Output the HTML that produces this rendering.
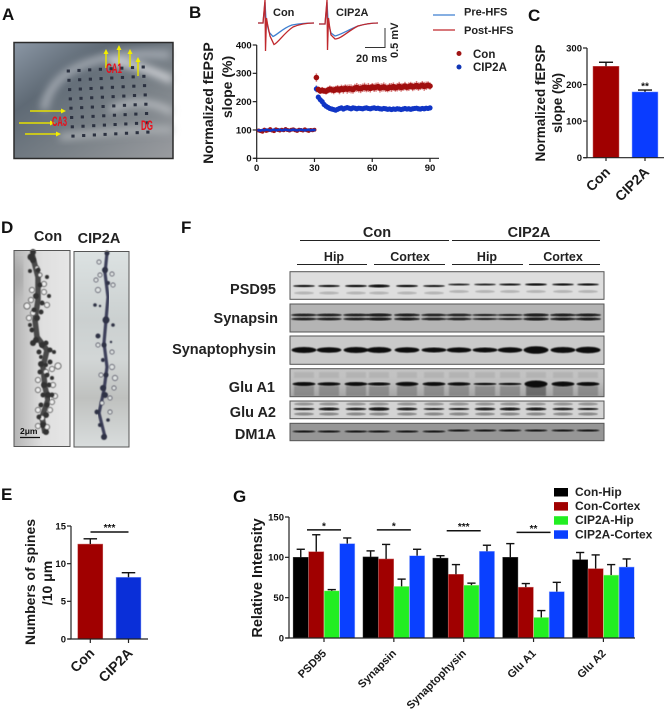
<!DOCTYPE html>
<html lang="en">
<head>
<meta charset="utf-8">
<title>CIP2A figure</title>
<style>
html,body{margin:0;padding:0;background:#fff;}
svg{display:block;font-family:"Liberation Sans",sans-serif;filter:blur(0.35px);}
.pl{font-size:17px;font-weight:700;fill:#111;}
.tk{font-size:9.5px;font-weight:700;fill:#111;}
.ttl{font-size:14px;font-weight:700;fill:#1a1a1a;text-anchor:middle;}
.cal{font-size:11px;font-weight:700;fill:#222;}
.blot{font-size:14.5px;font-weight:700;fill:#222;text-anchor:end;}
.hd{font-size:14.5px;font-weight:700;fill:#222;text-anchor:middle;}
.sub{font-size:12.5px;font-weight:700;fill:#222;text-anchor:middle;}
.leg{font-size:12px;font-weight:700;fill:#222;}
</style>
</head>
<body>
<svg id="fig" xmlns="http://www.w3.org/2000/svg" width="670" height="714" viewBox="0 0 670 714">
<defs>
<filter id="b05"><feGaussianBlur stdDeviation="0.5"/></filter>
<filter id="b1"><feGaussianBlur stdDeviation="0.9"/></filter>
<filter id="b4"><feGaussianBlur stdDeviation="4"/></filter>
<filter id="b8"><feGaussianBlur stdDeviation="7"/></filter>
<linearGradient id="aBg" x1="0" y1="0" x2="1" y2="1">
<stop offset="0" stop-color="#8b97a5"/><stop offset="0.3" stop-color="#5f6a75"/><stop offset="0.65" stop-color="#7c8389"/><stop offset="1" stop-color="#9a9ca0"/>
</linearGradient>
<linearGradient id="dBg1" x1="0" y1="0" x2="1" y2="0">
<stop offset="0" stop-color="#b4b4b4"/><stop offset="0.5" stop-color="#dfdfdf"/><stop offset="1" stop-color="#e6e6e6"/>
</linearGradient>
<linearGradient id="dBg2" x1="0" y1="0" x2="0" y2="1">
<stop offset="0" stop-color="#dce2e2"/><stop offset="0.35" stop-color="#cbd0d0"/><stop offset="0.55" stop-color="#d2d6d6"/><stop offset="0.75" stop-color="#bfc1bf"/><stop offset="1" stop-color="#d9dddd"/>
</linearGradient>
<linearGradient id="gA1" x1="0" y1="0" x2="0" y2="1">
<stop offset="0" stop-color="#c4c4c4"/><stop offset="0.45" stop-color="#c0c0c0"/><stop offset="1" stop-color="#a4a4a4"/>
</linearGradient>
</defs>

<text class="pl" x="2" y="20">A</text>
<text class="pl" x="189" y="18">B</text>
<text class="pl" x="528" y="21">C</text>
<text class="pl" x="1" y="233">D</text>
<text class="pl" x="181" y="233">F</text>
<text class="pl" x="1" y="500">E</text>
<text class="pl" x="233" y="502">G</text>

<g id="panelA">
<rect x="14" y="42.500" width="159" height="116" fill="url(#aBg)"/>
<g filter="url(#b4)" fill="none" stroke="#b7bcc2">
<path d="M44 110 C50 70 95 50 170 55" stroke-width="8" stroke="#a2a8b0"/>
<path d="M110 62 C130 62 150 70 172 80" stroke-width="7" stroke="#d4d6da"/>
<path d="M110 110 C130 100 150 100 172 112" stroke-width="5" stroke="#c5c8cc"/>
<path d="M60 137 C90 135 130 128 172 130" stroke-width="6" stroke="#aeb2b6"/>
</g>
<rect x="14" y="42.500" width="159" height="116" fill="none" stroke="#2b2b2b" stroke-width="1.500"/>
<g id="aDots"></g>
<g stroke="#e6e000" stroke-width="1.500" fill="#f2ee00">
<line x1="106" y1="68" x2="106" y2="52"/><path d="M103.500 54 L106 49 L108.500 54Z" stroke="none"/>
<line x1="119" y1="65" x2="119" y2="48"/><path d="M116.500 50 L119 45 L121.500 50Z" stroke="none"/>
<line x1="130" y1="67" x2="130" y2="52"/><path d="M127.500 54 L130 49 L132.500 54Z" stroke="none"/>
<line x1="138" y1="76" x2="138" y2="60"/><path d="M135.500 62 L138 57 L140.500 62Z" stroke="none"/>
<line x1="30" y1="111" x2="62" y2="111"/><path d="M61 108.500 L66 111 L61 113.500Z" stroke="none"/>
<line x1="19" y1="123" x2="51" y2="123"/><path d="M50 120.500 L55 123 L50 125.500Z" stroke="none"/>
<line x1="25" y1="134" x2="57" y2="134"/><path d="M56 131.500 L61 134 L56 136.500Z" stroke="none"/>
</g>
<text x="106" y="73" font-size="14" font-weight="700" fill="#e8101c" textLength="16" lengthAdjust="spacingAndGlyphs">CA1</text>
<text x="52" y="126" font-size="14" font-weight="700" fill="#e8101c" textLength="15" lengthAdjust="spacingAndGlyphs">CA3</text>
<text x="141" y="130" font-size="14" font-weight="700" fill="#e8101c" textLength="12" lengthAdjust="spacingAndGlyphs">DG</text>
</g>

<g id="panelB">
<g id="bTraces" fill="none" stroke-width="1.300">
<path d="M258 23 L263 23 L265 2 L266 20 L267 24 L269 32 L273 36.500 C277 35 283 28 292 25 C300 23.500 308 23 314 23" stroke="#3f7fd0"/>
<path d="M258 23 L263 23 L265 0 L265.500 51 L266.500 18 L267.500 24 L270 36 L274 44.500 C278 43 284 33 293 27 C300 24 308 23 314 23" stroke="#c0282c"/>
<path d="M319 24 L325 24 L327 2 L328 20 L329 26 L331 33 L335 36 C340 35 348 30 358 26 C365 24 372 23 378 23" stroke="#3f7fd0"/>
<path d="M319 24 L325 24 L327 0 L327.500 50 L328.500 18 L329.500 26 L331 35 L335 39 C341 39 348 31 358 26 C365 24 372 23 378 23" stroke="#c0282c"/>
</g>
<text class="cal" x="273" y="16" font-size="11.500">Con</text>
<text class="cal" x="336" y="16">CIP2A</text>
<path d="M385 28 V47.500 H365" fill="none" stroke="#333" stroke-width="1"/>
<text class="cal" x="356" y="62">20 ms</text>
<text class="cal" transform="translate(398,58) rotate(-90)" x="0" y="0">0.5 mV</text>
<line x1="433" x2="455" y1="15" y2="15" stroke="#3f7fd0" stroke-width="1.300"/>
<text class="cal" x="464" y="15.500">Pre-HFS</text>
<line x1="433" x2="455" y1="30" y2="30" stroke="#c0282c" stroke-width="1.300"/>
<text class="cal" x="464" y="34">Post-HFS</text>
<circle cx="459" cy="53.500" r="2.500" fill="#a01515"/>
<text x="473" y="58" font-size="11.500" font-weight="700" fill="#222">Con</text>
<circle cx="459" cy="67" r="2.500" fill="#1035b5"/>
<text x="473" y="71" font-size="11.500" font-weight="700" fill="#222">CIP2A</text>
<text class="ttl" transform="translate(213,103) rotate(-90)">Normalized fEPSP</text>
<text class="ttl" transform="translate(232,87) rotate(-90)">slope (%)</text>
<g id="bChart"></g>
</g>

<g id="panelC">
<text class="ttl" transform="translate(545,103) rotate(-90)" style="font-size:13.500px">Normalized fEPSP</text>
<text class="ttl" transform="translate(562,103) rotate(-90)" style="font-size:13.500px">slope (%)</text>
<g id="cChart"></g>
</g>

<g id="panelD">
<text class="hd" x="48" y="241">Con</text>
<text class="hd" x="99" y="243">CIP2A</text>
<rect x="14" y="250.500" width="56" height="196" fill="url(#dBg1)"/>
<rect x="74" y="251.500" width="55" height="195.500" fill="url(#dBg2)"/>
<path d="M15 260 C28 270 22 285 15 300 Z" fill="#8f8f8f" filter="url(#b8)"/>
<path d="M32 254 L38 277 L38 300 L35 320 L37 337 L47 350 L43 367 L45 387 L48 400 L42 417 L45 433" fill="none" stroke="#4a4a4a" stroke-width="5.500" stroke-linejoin="round" filter="url(#b05)"/>
<path d="M107 253 L105 273 L108 297 L106 320 L104 343 L107 367 L104 390 L99 413 L105 437" fill="none" stroke="#3d415a" stroke-width="3.200" stroke-linejoin="round" filter="url(#b05)"/>
<g id="spines" filter="url(#b05)"></g>
<rect x="14" y="250.500" width="56" height="196" fill="none" stroke="#555" stroke-width="1"/>
<rect x="74" y="251.500" width="55" height="195.500" fill="none" stroke="#555" stroke-width="1"/>
<text x="20" y="434" font-size="8.500" font-weight="700" fill="#111">2μm</text>
<line x1="20" x2="40" y1="437.500" y2="437.500" stroke="#111" stroke-width="1.300"/>
</g>

<g id="panelF">
<text class="hd" x="377" y="237">Con</text>
<text class="hd" x="529" y="237">CIP2A</text>
<line x1="300" x2="449" y1="240.500" y2="240.500" stroke="#222"/>
<line x1="452" x2="600" y1="240.500" y2="240.500" stroke="#222"/>
<text class="sub" x="334" y="261">Hip</text>
<text class="sub" x="410" y="261">Cortex</text>
<text class="sub" x="487" y="261">Hip</text>
<text class="sub" x="563" y="261">Cortex</text>
<line x1="297" x2="367" y1="264.500" y2="264.500" stroke="#222"/>
<line x1="374" x2="445" y1="264.500" y2="264.500" stroke="#222"/>
<line x1="452" x2="523" y1="264.500" y2="264.500" stroke="#222"/>
<line x1="529" x2="600" y1="264.500" y2="264.500" stroke="#222"/>
<text class="blot" x="276" y="294">PSD95</text>
<text class="blot" x="278" y="323">Synapsin</text>
<text class="blot" x="276" y="354">Synaptophysin</text>
<text class="blot" x="275" y="392">Glu A1</text>
<text class="blot" x="276" y="417">Glu A2</text>
<text class="blot" x="276" y="439">DM1A</text>
<g id="blots"></g>
</g>

<g id="panelE">
<text class="ttl" transform="translate(35,582) rotate(-90)">Numbers of spines</text>
<text class="ttl" transform="translate(52,583) rotate(-90)">/10 μm</text>
<g id="eChart"></g>
</g>

<g id="panelG">
<text class="ttl" transform="translate(262,578) rotate(-90)" style="font-size:14.500px">Relative Intensity</text>
<g id="gChart"></g>
<g id="gLegend"></g>
</g>
</svg>

<script>
// ---- Panel B data ----
const bXTicks = [0, 30, 60, 90];
const bYTicks = [0, 100, 200, 300, 400];
const bBaseTime = [1,2,3,4,5,6,7,8,9,10,11,12,13,14,15,16,17,18,19,20,21,22,23,24,25,26,27,28,29,30];
const bConBase = [98,96,94,101,97,99,103,98,96,102,100,98,101,99,103,100,98,101,102,99,97,101,100,98,102,99,97,100,99,101];
const bCipBase = [99,98,100,99,101,100,98,100,101,99,100,101,99,100,101,100,99,100,101,100,99,100,101,100,99,100,101,99,100,100];
const bConBaseErr = [6,6,7,7,6,5,6,6,5,6,5,6,5,6,7,5,6,5,6,5,6,5,6,5,6,6,5,6,5,6];
const bCipBaseErr = [2,2,2,2,2,2,2,2,2,2,2,2,2,2,2,2,2,2,2,2,2,2,2,2,2,2,2,2,2,2];
const bPostTime = [31,32,33,34,35,36,37,38,39,40,41,42,43,44,45,46,47,48,49,50,51,52,53,54,55,56,57,58,59,60,61,62,63,64,65,66,67,68,69,70,71,72,73,74,75,76,77,78,79,80,81,82,83,84,85,86,87,88,89,90];
const bConPost = [285,243,238,240,238,237,241,244,242,240,243,245,241,246,243,247,244,246,245,243,248,250,247,246,249,251,248,250,247,252,249,251,253,248,250,252,249,247,251,250,253,249,251,254,250,252,255,251,253,256,252,254,257,253,255,258,254,256,258,255];
const bConPostErr = [15,10,11,12,11,12,12,13,13,14,13,14,15,14,15,14,16,15,16,15,15,16,15,16,15,16,15,16,15,14,15,16,15,16,15,16,15,14,15,16,15,14,15,16,15,14,15,14,15,14,15,14,16,15,14,15,16,15,14,13];
const bCipPost = [245,216,207,200,190,184,180,176,174,172,170,173,176,178,174,177,179,177,175,178,177,175,177,176,175,177,178,176,175,177,178,176,177,175,174,176,175,173,174,172,174,173,175,174,172,174,176,174,175,173,175,176,177,175,174,176,175,177,176,178];
const bCipPostErr = [12,9,8,8,7,7,6,6,6,6,6,7,7,7,8,6,6,6,6,6,5,6,5,6,6,5,6,6,5,6,5,6,5,6,5,6,6,5,6,5,6,5,6,5,6,5,6,5,6,5,5,6,5,5,6,5,5,5,5,4];
// ---- Panel C data ----
const cCategories = ['Con', 'CIP2A'];
const cValues = [250, 180];
const cErrors = [11, 5];
const cYTicks = [0, 100, 200, 300];
// ---- Panel E data ----
const eCategories = ['Con', 'CIP2A'];
const eValues = [12.6, 8.2];
const eErrors = [0.7, 0.6];
const eYTicks = [0, 5, 10, 15];
// ---- Panel G data ----
const gCategories = ['PSD95', 'Synapsin', 'Synaptophysin', 'Glu A1', 'Glu A2'];
const gSeriesNames = ['Con-Hip', 'Con-Cortex', 'CIP2A-Hip', 'CIP2A-Cortex'];
const gConHip = [100, 100.5, 99, 100, 97];
const gConCortex = [107, 98, 79, 63, 86];
const gCipHip = [58.5, 64, 65.5, 25.5, 78];
const gCipCortex = [117, 102, 107.5, 57.5, 88];
const gConHipErr = [10, 7.5, 3, 17, 9];
const gConCortexErr = [21, 18, 12, 4.5, 17];
const gCipHipErr = [1.5, 9, 2.5, 8.5, 13];
const gCipCortexErr = [7, 8, 7.5, 11.5, 10];
const gYTicks = [0, 50, 100, 150];
const gSigLabels = ['*', '*', '***', '**', ''];
const gSigLevels = [134, 134, 133, 131, 0];
// ---- Blot band data (relative band thickness per lane) ----
const blotPsd = [2.2,2.2,2.4,3,2.4,2,1.8,1.8,2,2.4,2.2,2.2];
const blotSynapsin = [2.8,2.8,2.8,3.2,3,2.6,2.6,2.2,2.2,3.2,3,3];
const blotPhysin = [6,5.5,6,6,5.5,5,5.2,5,5.4,7.5,6,6.5];
const blotA1 = [4,3.4,4,3.2,4.2,4,3.4,2.4,2.4,7,5,4];
const blotA2 = [2.4,3,2.6,3.4,2.8,2,2.2,2.8,3,3,2.6,2.2];
const blotDm = [2,2,2,2,2,2,2,2,2,2,2,2];
const blotLanes = [304,329,356,379,407,434,459,485,510,536,563,588];

const NS = 'http://www.w3.org/2000/svg';
function mk(parent, tag, attrs, text) {
  const el = document.createElementNS(NS, tag);
  for (const k in attrs) el.setAttribute(k, attrs[k]);
  if (text !== undefined) el.textContent = text;
  parent.appendChild(el);
  return el;
}
function $(id) { return document.getElementById(id); }

// Axes helpers
function drawYAxis(root, x, scale, ticks, x2, base) {
  const ax = mk(root, 'line', {x1: x, x2: x, y1: scale(ticks[ticks.length - 1]), y2: base, stroke: '#222', 'stroke-width': 1.2});
  
  
  const bx = mk(root, 'line', {x1: x - 3, x2: x2, y1: base, y2: base, stroke: '#222', 'stroke-width': 1.2});
  
  
  ticks.forEach(function (t) {
    const tick = mk(root, 'line', {x1: x - 4, x2: x, y1: scale(t), y2: scale(t), stroke: '#222', 'stroke-width': 1.2});
    
    
    const lab = mk(root, 'text', {x: x - 5, y: scale(t) + 3.3, 'text-anchor': 'end', class: 'tk'}, String(t));
    
    
  });
}
function drawBar(root, cx, w, base, top, errTop, color, edge) {
  const r = mk(root, 'rect', {x: cx - w / 2, y: top, width: w, height: base - top, fill: color, stroke: edge, 'stroke-width': 0.5});
  
  
  const e = mk(root, 'line', {x1: cx, x2: cx, y1: top, y2: errTop, stroke: '#111', 'stroke-width': 1.4});
  
  
  const cap = mk(root, 'line', {x1: cx - w * 0.27, x2: cx + w * 0.27, y1: errTop, y2: errTop, stroke: '#111', 'stroke-width': 1.4});
  
  
}
function rotLabel(root, x, y, str, size) {
  const t = mk(root, 'text', {transform: 'translate(' + x + ',' + y + ') rotate(-45)', 'text-anchor': 'end', 'font-size': size, 'font-weight': 700, fill: '#1a1a1a'}, str);
  
  
}

// Panel B
(function () {
  const root = $('bChart');
  const xB = function (t) { return 256.7 + t * 173.3 / 90; };
  const yB = function (v) { return 158.3 - v * 113.3 / 400; };
  drawYAxis(root, 256.7, yB, bYTicks, 439, 158.3);
  bXTicks.forEach(function (t) {
    const tick = mk(root, 'line', {x1: xB(t), x2: xB(t), y1: 158.3, y2: 162, stroke: '#222', 'stroke-width': 1.2});
    
    
    const lab = mk(root, 'text', {x: xB(t), y: 171, 'text-anchor': 'middle', class: 'tk'}, String(t));
    
    
  });
  function series(times, vals, errs, color, errColor, name, rad) {
    times.forEach(function (t, i) {
      const err = mk(root, 'line', {x1: xB(t), x2: xB(t), y1: yB(vals[i] + errs[i]), y2: yB(vals[i] - errs[i]), stroke: errColor, 'stroke-width': 1.5});
      
      
    });
    times.forEach(function (t, i) {
      const p = mk(root, 'circle', {cx: xB(t), cy: yB(vals[i]), r: rad, fill: color});
      
      
    });
  }
  series(bBaseTime, bConBase, bConBaseErr, '#a01515', '#c44', 'con-baseline', 2);
  series(bBaseTime, bCipBase, bCipBaseErr, '#1035c5', '#1035c5', 'cip2a-baseline', 1.4);
  series(bPostTime, bCipPost, bCipPostErr, '#1035c5', '#5570d8', 'cip2a-post', 2.6);
  series(bPostTime, bConPost, bConPostErr, '#a00f0f', '#d98080', 'con-post', 2.8);
})();

// Panel C
(function () {
  const root = $('cChart');
  const yC = function (v) { return 157.7 - v * 109.7 / 300; };
  const xC = function (i) { return 606 + i * 39; };
  const cols = ['#a00000', '#0a3cff'];
  const edges = ['#c86060', '#9fb4ff'];
  cValues.forEach(function (v, i) {
    drawBar(root, xC(i), 26, 157.7, yC(v), yC(v + cErrors[i]), cols[i], edges[i]);
  });
  drawYAxis(root, 587, yC, cYTicks, 664, 157.7);
  cCategories.forEach(function (c, i) {
    const tick = mk(root, 'line', {x1: xC(i), x2: xC(i), y1: 157.7, y2: 161, stroke: '#222', 'stroke-width': 1.2});
    
    
    rotLabel(root, xC(i) + 5, 173, c, 14);
  });
  const star = mk(root, 'text', {x: xC(1), y: yC(cValues[1] + cErrors[1]) - 0.5, 'text-anchor': 'middle', 'font-size': 10, 'font-weight': 700, fill: '#111'}, '**');
  
  
})();

// Panel E
(function () {
  const root = $('eChart');
  const yE = function (v) { return 639 - v * 113 / 15; };
  const xE = function (i) { return 90.3 + i * 38.2; };
  const cols = ['#a00000', '#0a2fd8'];
  const edges = ['#c86060', '#9fb4ff'];
  eValues.forEach(function (v, i) {
    drawBar(root, xE(i), 25, 639, yE(v), yE(v + eErrors[i]), cols[i], edges[i]);
  });
  drawYAxis(root, 71, yE, eYTicks, 148, 639);
  eCategories.forEach(function (c, i) {
    const tick = mk(root, 'line', {x1: xE(i), x2: xE(i), y1: 639, y2: 643, stroke: '#222', 'stroke-width': 1.2});
    
    
    rotLabel(root, xE(i) + 5, 654, c, 14);
  });
  const sig = mk(root, 'line', {x1: 90.5, x2: 128.5, y1: 532, y2: 532, stroke: '#111', 'stroke-width': 1.5});
  
  
  const star = mk(root, 'text', {x: 109.5, y: 531, 'text-anchor': 'middle', 'font-size': 10, 'font-weight': 700, fill: '#111'}, '***');
  
  
})();

// Panel G
(function () {
  const root = $('gChart');
  const yG = function (v) { return 638 - v * 121 / 150; };
  const xG = function (g, s) { return 293 + g * 69.85 + (s + 0.5) * 15.5; };
  const all = [gConHip, gConCortex, gCipHip, gCipCortex];
  const errs = [gConHipErr, gConCortexErr, gCipHipErr, gCipCortexErr];
  const cols = ['#000000', '#a00000', '#22ee22', '#0a40ff'];
  const edges = ['#333', '#d07070', '#c8f0a0', '#9fb4ff'];
  all.forEach(function (vals, s) {
    vals.forEach(function (v, g) {
      drawBar(root, xG(g, s), 15.2, 638, yG(v), yG(v + errs[s][g]), cols[s], edges[s]);
    });
  });
  drawYAxis(root, 289, yG, gYTicks, 635, 638);
  gCategories.forEach(function (c, g) {
    const cx = xG(g, 1.5);
    const tick = mk(root, 'line', {x1: cx, x2: cx, y1: 638, y2: 642, stroke: '#222', 'stroke-width': 1.2});
    
    
    rotLabel(root, cx + 3, 654, c, 11);
    if (gSigLabels[g]) {
      const ly = yG(gSigLevels[g]);
      const sig = mk(root, 'line', {x1: cx - 17, x2: cx + 17, y1: ly, y2: ly, stroke: '#111', 'stroke-width': 1.5});
      
      
      const st = mk(root, 'text', {x: cx, y: ly - 0.5, 'text-anchor': 'middle', 'font-size': 10, 'font-weight': 700, fill: '#111'}, gSigLabels[g]);
      
      
    }
  });
  const leg = $('gLegend');
  gSeriesNames.forEach(function (n, i) {
    const ly = 492 + i * 14.1;
    const sw = mk(leg, 'rect', {x: 554, y: ly - 4, width: 14, height: 8.5, fill: cols[i]});
    
    
    const tx = mk(leg, 'text', {x: 575, y: ly + 4, class: 'leg'}, n);
    
    
  });
})();

// Panel A dots (photo decoration)
(function () {
  const root = $('aDots');
  for (let r = 0; r < 8; r++) {
    for (let c = 0; c < 8; c++) {
      const d = mk(root, 'rect', {x: 68.3 + c * 10.7 + r * 0.67 - 1.6, y: 71 - c * 0.57 + r * 9.3 - 1.5, width: 3.2, height: 3, fill: '#2b3140'});
      
      
    }
  }
})();

// Panel D spines (photo decoration)
(function () {
  const root = $('spines');
  const conRing = [[32,290,2.5],[44,284,2.5],[27,306,3],[33,313,2.5],[29,318,2.5],[58,366,3],[52,369,2.5],[55,396,2.5],[38,410,2.5],[42,418,2.5],[50,410,2.5],[47,427,2.5],[38,426,2.5],[44,292,2.5],[40,275,2],[37,268,2],[46,372,2.5],[53,385,2.5],[38,380,2.5],[38,390,2.5],[52,402,2.5],[47,305,2.5],[31,300,2.5]];
  const conDark = [[31,257,3.5],[33,252,3],[30,271,2],[47,277,2],[40,285,2.5],[49,296,2],[36,296,3],[42,303,2.5],[37,318,3],[32,330,2.5],[36,340,3],[42,345,3],[50,350,2.5],[41,357,2],[46,365,2],[41,364,3],[47,375,2.5],[44,385,3],[48,395,3],[41,405,2.5],[46,415,3],[43,425,3],[46,432,3],[33,260,3],[38,270,2.5],[34,310,2.5],[41,312,2.5],[30,325,2],[33,343,3],[46,343,2.5],[54,352,2],[39,352,2.5],[50,362,2.5],[40,372,2.5],[52,378,2],[49,385,2.5],[43,395,2.5],[52,395,2.5],[47,405,2.5],[39,417,2.5]];
  const cipRing = [[98,290,2.5],[113,285,2],[98,345,2],[112,367,2.5],[115,378,2.5],[102,403,2],[110,398,2],[96,280,2],[100,275,2],[112,274,2],[99,262,2],[112,352,2],[114,388,2],[101,375,2],[110,412,2]];
  const cipDark = [[107,253,2.5],[95,305,1.8],[113,325,1.8],[98,336,2.5],[106,320,3.5],[104,345,2.5],[106,375,2.5],[103,388,3],[97,412,2.5],[104,437,3],[105,270,3],[108,283,2],[100,306,1.2],[111,342,1.2],[105,395,3],[108,420,1.8],[103,360,2],[100,425,2]];
  conRing.forEach(function (s) {
    const c = mk(root, 'circle', {cx: s[0], cy: s[1], r: s[2], fill: '#eee', stroke: '#555', 'stroke-width': 1});
    
    
  });
  conDark.forEach(function (s) {
    const c = mk(root, 'circle', {cx: s[0], cy: s[1], r: s[2], fill: '#303030'});
    
    
  });
  cipRing.forEach(function (s) {
    const c = mk(root, 'circle', {cx: s[0], cy: s[1], r: s[2], fill: '#dfe3e3', stroke: '#556', 'stroke-width': 0.9});
    
    
  });
  cipDark.forEach(function (s) {
    const c = mk(root, 'circle', {cx: s[0], cy: s[1], r: s[2], fill: '#2e3145'});
    
    
  });
})();

// Panel F blots (photo decoration)
(function () {
  const root = $('blots');
  function frame(y, h, fill, name) {
    const r = mk(root, 'rect', {x: 290, y: y, width: 314, height: h, fill: fill, stroke: '#555', 'stroke-width': 1});
    
    
  }
  function band(cx, cy, w, h, color, op, name) {
    const e = mk(root, 'ellipse', {cx: cx, cy: cy, rx: w / 2, ry: h / 2, fill: color, 'fill-opacity': op, filter: 'url(#b05)'});
    
    
  }
  frame(271.7, 27.6, '#dedede', 'psd95-blot');
  frame(304, 28, '#b4b4b4', 'synapsin-blot');
  frame(336, 28.3, '#cacaca', 'synaptophysin-blot');
  frame(368.7, 28, 'url(#gA1)', 'glu-a1-blot');
  frame(401, 17.7, '#d4d4d4', 'glu-a2-blot');
  frame(423.3, 17.4, '#969696', 'dm1a-blot');
  blotLanes.forEach(function (x, i) {
    const lift = i > 5 ? 1.5 : 0;
    band(x, 286 - lift, 22, blotPsd[i], '#111', 1, 'psd95-band');
    band(x, 293 - lift, 20, 3, '#999', 0.6, 'psd95-faint-band');
    band(x, 315, 26, blotSynapsin[i], '#1a1a1a', 1, 'synapsin-upper-band');
    band(x, 319, 26, blotSynapsin[i], '#1a1a1a', 1, 'synapsin-lower-band');
    band(x, 350, 25, blotPhysin[i], '#0c0c0c', 1, 'synaptophysin-band');
    const sm = mk(root, 'rect', {x: x - 10, y: 386, width: 20, height: 10, fill: i === 9 ? '#333' : '#6e6e6e', 'fill-opacity': 0.55, filter: 'url(#b1)'});
    
    
    const up = mk(root, 'rect', {x: x - 10, y: 372, width: 20, height: 6, fill: '#999', 'fill-opacity': 0.35, filter: 'url(#b1)'});
    
    
    band(x, 384, 23, blotA1[i], '#0a0a0a', 1, 'glu-a1-band');
    band(x, 404, 20, 3, '#777', 0.7, 'glu-a2-upper-band');
    band(x, 414, 20, 3, '#666', 0.7, 'glu-a2-lower-band');
    band(x, 409, 21, blotA2[i], '#151515', 1, 'glu-a2-band');
    band(x, i > 5 ? 430.5 : 431.5, 23, blotDm[i], '#0c0c0c', 1, 'dm1a-band');
  });
})();
</script>
</body>
</html>
